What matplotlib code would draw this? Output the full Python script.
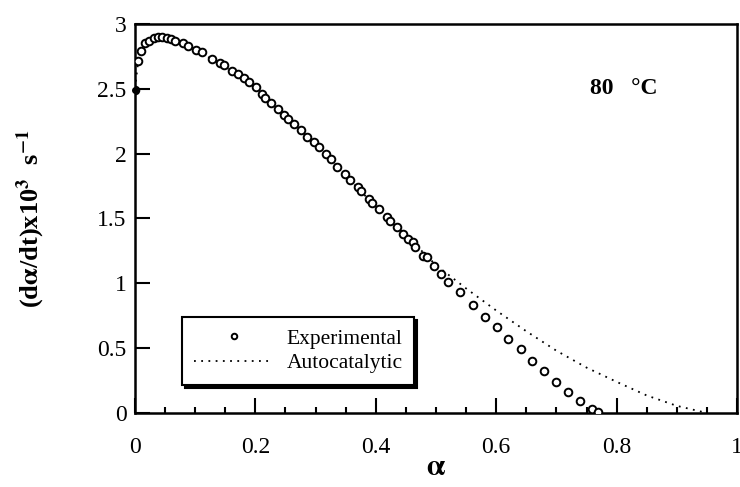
import matplotlib
matplotlib.use("Agg")
import matplotlib.pyplot as plt
from matplotlib.ticker import MultipleLocator, FormatStrFormatter

plt.rcParams['font.family'] = ['Liberation Serif', 'DejaVu Serif']
plt.rcParams['mathtext.fontset'] = 'stix'

# experimental points (alpha, rate x10^3 s^-1)
exp_alpha = [0.0, 0.005, 0.01, 0.017, 0.023, 0.032, 0.038, 0.045, 0.053, 0.06,
             0.066, 0.08, 0.088, 0.101, 0.111, 0.128, 0.141, 0.148, 0.161, 0.171,
             0.181, 0.189, 0.201, 0.211, 0.216, 0.226, 0.238, 0.248, 0.254, 0.264,
             0.276, 0.286, 0.297, 0.306, 0.317, 0.326, 0.336, 0.349, 0.357, 0.370,
             0.375, 0.389, 0.394, 0.405, 0.419, 0.424, 0.435, 0.445, 0.453, 0.462,
             0.465, 0.478, 0.485, 0.497, 0.508, 0.520, 0.540, 0.561, 0.581, 0.601,
             0.620, 0.641, 0.659, 0.679, 0.699, 0.719, 0.739, 0.759, 0.769]
exp_rate = [2.49, 2.71, 2.79, 2.85, 2.87, 2.89, 2.90, 2.90, 2.89, 2.88,
            2.87, 2.85, 2.83, 2.80, 2.78, 2.73, 2.70, 2.68, 2.64, 2.61,
            2.58, 2.55, 2.51, 2.46, 2.43, 2.39, 2.34, 2.30, 2.27, 2.23,
            2.18, 2.13, 2.09, 2.05, 2.00, 1.96, 1.90, 1.84, 1.80, 1.74,
            1.71, 1.65, 1.62, 1.57, 1.51, 1.48, 1.43, 1.38, 1.34, 1.32,
            1.28, 1.21, 1.20, 1.13, 1.07, 1.01, 0.93, 0.83, 0.74, 0.66,
            0.57, 0.49, 0.40, 0.32, 0.24, 0.16, 0.09, 0.03, 0.01]

# autocatalytic model curve
model_alpha = [0.0, 0.005, 0.01, 0.02, 0.04, 0.06, 0.1, 0.15, 0.2, 0.25, 0.3,
               0.35, 0.4, 0.45, 0.5, 0.55, 0.6, 0.65, 0.7, 0.75, 0.8, 0.85,
               0.9, 0.95]
model_rate = [2.5, 2.7, 2.79, 2.86, 2.9, 2.88, 2.8, 2.67, 2.51, 2.29, 2.07,
              1.83, 1.59, 1.37, 1.14, 0.96, 0.79, 0.63, 0.48, 0.35, 0.24, 0.135,
              0.055, 0.0]

fig = plt.figure(figsize=(7.4, 4.87), dpi=100)
ax = fig.add_axes([0.1824, 0.152, 0.8136, 0.799])

ax.plot(model_alpha, model_rate, linestyle=(0, (1, 3)), color='black', lw=1.3,
        label='Autocatalytic', zorder=2)
ax.plot(exp_alpha, exp_rate, 'o', mfc='white', mec='black', mew=1.4, ms=5.5,
        label='Experimental', zorder=3)
ax.plot([0], [2.49], 'o', color='black', ms=4, zorder=4, clip_on=False)

ax.set_xlim(0, 1)
ax.set_ylim(0, 3)
ax.xaxis.set_major_locator(MultipleLocator(0.2))
ax.xaxis.set_minor_locator(MultipleLocator(0.05))
ax.yaxis.set_major_locator(MultipleLocator(0.5))
ax.xaxis.set_major_formatter(FormatStrFormatter('%g'))
ax.yaxis.set_major_formatter(FormatStrFormatter('%g'))
ax.tick_params(which='both', direction='in', top=False, right=False,
               labelsize=17, width=1.5)
ax.tick_params(axis='x', pad=17)
ax.tick_params(axis='y', pad=6)
ax.tick_params(which='major', length=11)
ax.tick_params(which='minor', length=4)
for s in ax.spines.values():
    s.set_linewidth(1.8)

ax.set_xlabel(r'$\mathbf{\alpha}$', fontsize=21, labelpad=-2)
ax.set_ylabel(r'(d$\mathbf{\alpha}$/dt)x10$^{\mathbf{3}}$  s$^{\mathbf{-1}}$',
              fontsize=19, fontweight='bold', labelpad=36)
ax.text(0.755, 2.5, '80   °C', fontsize=17, fontweight='bold', ha='left', va='center')

handles, labels = ax.get_legend_handles_labels()
leg = ax.legend(handles[::-1], labels[::-1], loc='lower left',
                bbox_to_anchor=(0.078, 0.072),
                fontsize=15.5, frameon=True, fancybox=False, handlelength=3.7,
                borderpad=0.55, labelspacing=0.2, handletextpad=0.6,
                borderaxespad=0,
                shadow={'color': 'black', 'alpha': 1})
leg.get_frame().set_edgecolor('black')
leg.get_frame().set_linewidth(1.5)
leg.legend_handles[0].set_markersize(4)

fig.savefig('out.png', dpi=100)
